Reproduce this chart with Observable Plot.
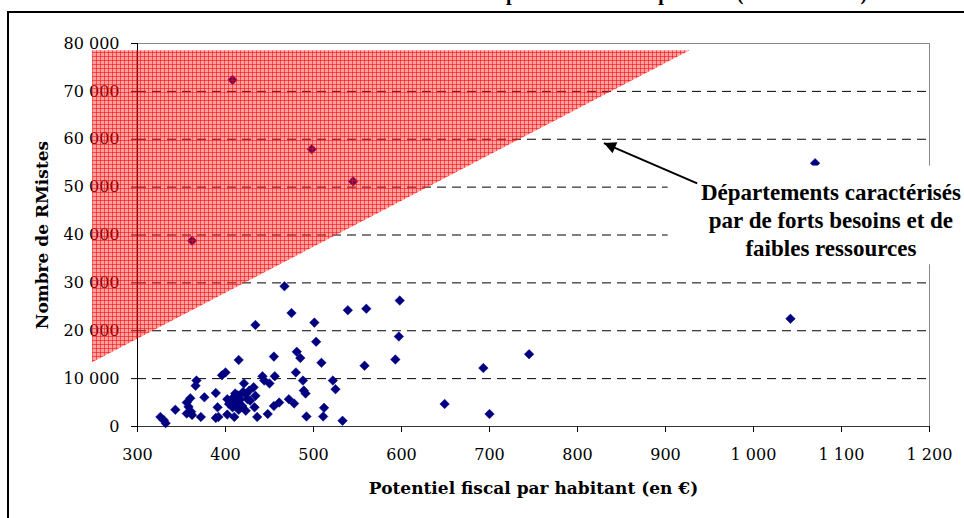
<!DOCTYPE html>
<html><head><meta charset="utf-8">
<script src="https://cdn.jsdelivr.net/npm/d3@7"></script>
<script src="https://cdn.jsdelivr.net/npm/@observablehq/plot@0.6"></script>
<style>html,body{margin:0;padding:0;background:#fff;overflow:hidden}svg{display:block}</style>
</head><body><div id="chart"></div>
<script>
// Potentiel fiscal par habitant (en €)
const potentielFiscal = [408,498,545,362,1070,1042,598,539,560,501,503,597,509,558,593,693,745,522,525,488,489,491,512,511,492,533,649,700,481,485,467,475,434,415,455,480,326,330,332,343,356,360,358,356,361,362,367,366,372,376,389,391,389,392,396,400,402,402,406,409,411,408,410,413,417,419,421,423,427,425,428,423,432,434,433,436,442,444,448,450,456,455,461,472,478,404,415,420,414];
// Nombre de RMistes
const nombreRMistes = [72400,57900,51200,38800,55000,22500,26300,24300,24600,21700,17700,18800,13300,12700,14000,12200,15100,9600,7800,9600,7500,6900,3900,2100,2100,1200,4700,2600,15600,14300,29300,23700,21200,13900,14600,11300,2000,1300,700,3500,5000,5900,4100,2700,3100,2400,9600,8500,2000,6100,7000,4000,1800,2000,10700,11300,2500,5700,5000,6100,6900,4000,2000,5000,5700,4300,9000,6800,7500,5700,5400,3300,8200,6400,4000,2000,10500,9600,2600,9000,10500,4300,5000,5700,4800,4700,3500,7200,6500];

const xTicks = [300,400,500,600,700,800,900,1000,1100,1200];
const yTicks = [0,10000,20000,30000,40000,50000,60000,70000,80000];

// Zone "forts besoins / faibles ressources" (triangle)
const zoneX = [249, 928];
const zoneBas = [13300, 78500];
const zoneHaut = [78500, 78500];

const titre = "Les RMistes dans les départements métropolitains (au 31/12/2007)";
const titreX = "Potentiel fiscal par habitant (en €)";
const titreY = "Nombre de RMistes";
const noteTexte = "Départements caractérisés\npar de forts besoins et de\nfaibles ressources";
const notePos = [1088, 43300];
const noteCadre = [903, 1400, 33800, 54400];
const flecheDepart = [936, 50800];
const flecheArrivee = [830, 59200];

const fmt = d => d3.format(",")(d).replace(/,/g, " ");
const points = potentielFiscal.map((x, i) => ({x, y: nombreRMistes[i]}));
const zone = zoneX.map((x, i) => ({x, y1: zoneBas[i], y2: zoneHaut[i]}));

const plot = Plot.plot({
  width: 964, height: 518,
  marginLeft: 137, marginRight: 35, marginTop: 43, marginBottom: 92,
  style: {fontFamily: "DejaVu Serif", fontSize: "16px", background: "white", color: "black"},
  x: {domain: [300, 1200], label: null},
  y: {domain: [0, 80000], label: null},
  marks: [
    Plot.gridY(yTicks.filter(d => d > 0), {stroke: "black", strokeOpacity: 1, strokeDasharray: "9,6"}),
    Plot.frame({stroke: "#888"}),
    Plot.ruleX([300], {stroke: "black"}),
    Plot.ruleY([0], {stroke: "#333"}),
    Plot.axisY({ticks: yTicks, tickFormat: fmt, tickSize: 6, tickPadding: 12, label: null, fontSize: 16}),
    Plot.axisX({ticks: xTicks, tickFormat: fmt, tickSize: 6, tickPadding: 16, label: null, fontSize: 16}),
    Plot.dot(points, {x: "x", y: "y", symbol: "diamond2", r: 4.3, fill: "#000080", stroke: "#000080", strokeWidth: 0.5}),
    Plot.areaY(zone, {x: "x", y1: "y1", y2: "y2", fill: "url(#trame)"}),
    Plot.rect([noteCadre], {x1: d => d[0], x2: d => d[1], y1: d => d[2], y2: d => d[3], fill: "white"}),
    Plot.text([noteTexte], {x: notePos[0], y: notePos[1], text: d => d, fontFamily: "Liberation Serif", fontWeight: "bold", fontSize: 23, lineHeight: 1.22, lineAnchor: "middle", fill: "black"}),
    Plot.link([0], {x1: flecheDepart[0], y1: flecheDepart[1], x2: flecheArrivee[0], y2: flecheArrivee[1], stroke: "black", strokeWidth: 2}),
    Plot.text([titre], {frameAnchor: "top", dy: -44, dx: 52, lineAnchor: "bottom", fontFamily: "Liberation Serif", fontWeight: "bold", fontSize: 20}),
    Plot.text([titreX], {frameAnchor: "bottom", dy: 67, fontWeight: "bold", fontSize: 17}),
    Plot.text([titreY], {frameAnchor: "left", dx: -95, rotate: -90, textAnchor: "middle", fontWeight: "bold", fontSize: 17})
  ]
});

const svg = d3.select(plot);
const defs = svg.insert("defs", ":first-child");
const pat = defs.append("pattern").attr("id", "trame").attr("patternUnits", "userSpaceOnUse").attr("width", 4).attr("height", 4);
pat.append("rect").attr("width", 4).attr("height", 4).attr("fill", "rgba(255,30,30,0.42)");
pat.append("path").attr("d", "M0,0.5H4M0.5,0V4").attr("stroke", "rgba(255,0,0,0.55)").attr("stroke-width", 1).attr("fill", "none");
defs.append("marker").attr("id", "pointe").attr("viewBox", "0 0 10 10").attr("refX", 10).attr("refY", 5)
  .attr("markerWidth", 15).attr("markerHeight", 12).attr("markerUnits", "userSpaceOnUse").attr("orient", "auto")
  .append("path").attr("d", "M0,0L10,5L0,10z").attr("fill", "black");
svg.selectAll("g[aria-label='link'] path").attr("marker-end", "url(#pointe)");
// cadre extérieur
svg.append("rect").attr("x", 8).attr("y", 12).attr("width", 1200).attr("height", 1200).attr("fill", "none").attr("stroke", "black").attr("stroke-width", 2);

document.getElementById("chart").append(plot);
</script>
</body></html>
